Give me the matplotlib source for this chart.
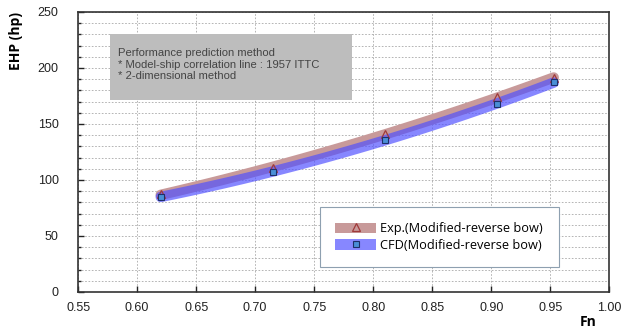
import numpy as np
import matplotlib.pyplot as plt
from matplotlib.patches import Patch, Rectangle
from matplotlib.lines import Line2D
from matplotlib.ticker import MultipleLocator, FormatStrFormatter

# ── data ─────────────────────────────────────────────────────────────────────
fn = [0.62, 0.715, 0.81, 0.905, 0.953]
ehp_exp = [87, 111, 141, 174, 191]
ehp_cfd = [85, 107, 136, 168, 187]

EXP_BAND = "#c89a9a"
CFD_BAND = "#4f4fff"
CFD_ALPHA = 0.68

plt.rcParams["font.family"] = ["Liberation Sans", "DejaVu Sans"]

fig = plt.figure(figsize=(6.3, 3.31), dpi=100, facecolor="white")
ax = fig.add_axes([0.124, 0.118, 0.843, 0.846])


def smooth(x, y):
    # quadratic trendline through the measured points, like Excel's smoothed line
    c = np.polyfit(x, y, 2)
    xs = np.linspace(min(x), max(x), 100)
    return xs, np.polyval(c, xs)


xs, ys = smooth(fn, ehp_exp)
ax.plot(xs, ys, color=EXP_BAND, lw=7.5, solid_capstyle="round", zorder=3)
xs, ys = smooth(fn, ehp_cfd)
ax.plot(xs, ys, color=CFD_BAND, lw=7.5, alpha=CFD_ALPHA, solid_capstyle="round",
        zorder=4)

ax.plot(fn, ehp_exp, ls="none", marker="^", ms=6, mfc="none", mec="#a03a3a",
        mew=0.9, zorder=5)
ax.plot(fn, ehp_cfd, ls="none", marker="s", ms=5, mfc="#4a8fd6", mec="#1f2f6a",
        mew=0.8, zorder=6)

# ── axes & grid ──────────────────────────────────────────────────────────────
ax.set_xlim(0.55, 1.00)
ax.set_ylim(0, 250)
ax.xaxis.set_major_locator(MultipleLocator(0.05))
ax.xaxis.set_major_formatter(FormatStrFormatter("%.2f"))
ax.yaxis.set_major_locator(MultipleLocator(50))
ax.yaxis.set_minor_locator(MultipleLocator(10))
ax.tick_params(direction="in", labelsize=9, colors="#222222", length=4, width=1)
ax.tick_params(which="minor", direction="in", length=2.5, width=1, color="#222222")
ax.tick_params(axis="x", pad=7)
ax.tick_params(axis="y", pad=14)
ax.grid(axis="x", which="major", color="#a8a8a8", ls=(0, (2, 2)), lw=0.6)
ax.grid(axis="y", which="both", color="#a8a8a8", ls=(0, (2, 2)), lw=0.6)
ax.set_axisbelow(True)
for s in ax.spines.values():
    s.set_color("#333333")
    s.set_linewidth(1.2)

fig.text(0.025, 0.965, "EHP (hp)", rotation=90, ha="center", va="top",
         fontsize=10, fontweight="bold", family=["Open Sans", "DejaVu Sans"])
fig.text(0.934, 0.005, "Fn", ha="center", va="bottom", fontsize=10,
         fontweight="bold", family=["Open Sans", "DejaVu Sans"])

# ── annotation box ───────────────────────────────────────────────────────────
ax.add_patch(Rectangle((0.577, 171), 0.205, 59, facecolor="#bdbdbd",
                       edgecolor="none", zorder=2))
ax.text(0.584, 203, "Performance prediction method\n"
        "* Model-ship correlation line : 1957 ITTC\n"
        "* 2-dimensional method",
        ha="left", va="center", fontsize=8.1, color="#444444",
        linespacing=1.2, zorder=3)

# ── legend ───────────────────────────────────────────────────────────────────
h_exp = (Patch(facecolor=EXP_BAND, edgecolor="none"),
         Line2D([], [], ls="none", marker="^", ms=6, mfc="none",
                mec="#a03a3a", mew=0.9))
h_cfd = (Patch(facecolor=CFD_BAND, alpha=CFD_ALPHA, edgecolor="none"),
         Line2D([], [], ls="none", marker="s", ms=5, mfc="#4a8fd6",
                mec="#1f2f6a", mew=0.8))
leg = ax.legend([h_exp, h_cfd],
                ["Exp.(Modified-reverse bow)", "CFD(Modified-reverse bow)"],
                loc="upper left", bbox_to_anchor=(0.455, 0.304),
                fancybox=False, framealpha=1, edgecolor="#8ea0b0",
                prop={"family": ["Open Sans", "DejaVu Sans"], "size": 9.2},
                handlelength=3.2, handleheight=0.85, borderpad=1.2,
                labelspacing=0.3, handletextpad=0.35, borderaxespad=0)
leg.get_frame().set_linewidth(0.8)
leg.set_zorder(10)

fig.savefig("out.png", dpi=100, facecolor="white")
